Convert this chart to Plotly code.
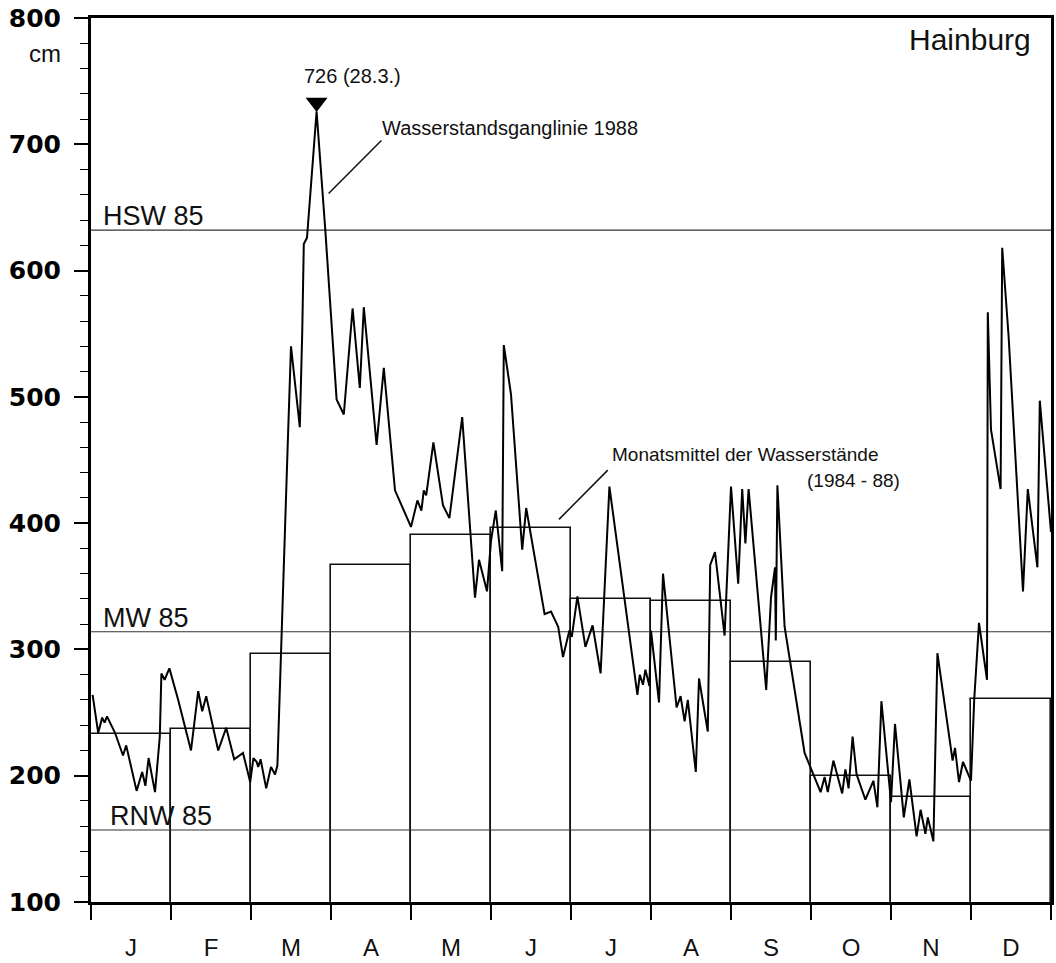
import plotly.graph_objects as go

# ---------------- data ----------------
month_labels = ["J", "F", "M", "A", "M", "J", "J", "A", "S", "O", "N", "D"]

# monthly means of water levels 1984-88 (cm)
monthly_mean = [233, 237, 296, 367, 391, 396, 340, 338, 290, 200, 183, 261]

# daily water level 1988: position in months (0 = 1 Jan, 12 = 31 Dec) and level (cm)
level_pos = [
    0.02, 0.09, 0.14, 0.17, 0.20, 0.23, 0.30, 0.40, 0.44, 0.57, 0.64, 0.68, 0.72, 0.80,
    0.86, 0.88, 0.92, 0.98, 1.09, 1.25, 1.34, 1.39, 1.44, 1.59, 1.69, 1.79, 1.90, 1.99,
    2.03, 2.07, 2.09, 2.12, 2.19, 2.25, 2.30, 2.33, 2.36, 2.46, 2.50, 2.61, 2.64, 2.66,
    2.70, 2.82, 2.93, 3.07, 3.16, 3.27, 3.36, 3.41, 3.57, 3.66, 3.80, 4.00, 4.08, 4.13,
    4.16, 4.19, 4.28, 4.40, 4.48, 4.64, 4.80, 4.85, 4.95, 5.00, 5.06, 5.14, 5.16, 5.25,
    5.39, 5.44, 5.67, 5.75, 5.84, 5.90, 5.98, 6.01, 6.08, 6.18, 6.27, 6.37, 6.48, 6.83,
    6.86, 6.90, 6.93, 6.98, 7.00, 7.10, 7.15, 7.32, 7.37, 7.42, 7.46, 7.56, 7.60, 7.71,
    7.74, 7.80, 7.92, 8.00, 8.09, 8.14, 8.18, 8.22, 8.44, 8.50, 8.55, 8.56, 8.58, 8.67,
    8.92, 9.05, 9.12, 9.17, 9.21, 9.28, 9.39, 9.43, 9.47, 9.52, 9.57, 9.68, 9.78, 9.83,
    9.88, 10.00, 10.05, 10.16, 10.23, 10.32, 10.37, 10.43, 10.46, 10.53, 10.58, 10.77,
    10.80, 10.85, 10.90, 11.00, 11.04, 11.10, 11.20, 11.21, 11.25, 11.37, 11.39, 11.47,
    11.65, 11.71, 11.83, 11.86, 12.00,
]
level_cm = [
    264, 234, 246, 242, 247, 243, 234, 216, 224, 188, 203, 192, 214, 187,
    231, 281, 276, 285, 260, 220, 267, 251, 263, 220, 238, 213, 218, 195,
    214, 211, 207, 213, 190, 207, 201, 208, 271, 464, 540, 476, 550, 621,
    626, 726, 631, 498, 486, 570, 507, 571, 462, 523, 426, 397, 418, 410,
    426, 422, 464, 414, 404, 484, 341, 371, 346, 386, 410, 362, 541, 502,
    379, 412, 328, 330, 318, 294, 315, 310, 342, 302, 319, 281, 429, 264,
    280, 272, 284, 271, 315, 258, 360, 254, 263, 243, 260, 203, 277, 235,
    367, 377, 311, 429, 352, 427, 384, 427, 268, 341, 365, 307, 430, 318,
    218, 198, 187, 199, 187, 212, 186, 205, 190, 231, 201, 181, 196, 175,
    259, 179, 241, 167, 197, 152, 173, 154, 167, 148, 297, 212,
    222, 195, 211, 196, 260, 321, 276, 567, 474, 427, 618, 548,
    346, 427, 365, 497, 393,
]

# reference levels (cm)
ref_names = ["HSW 85", "MW 85", "RNW 85"]
ref_values = [632, 314, 157]

peak_label = "726 (28.3.)"
station = "Hainburg"
line_label = "Wasserstandsganglinie 1988"
mean_label_1 = "Monatsmittel der Wasserstände"
mean_label_2 = "(1984 - 88)"

y_ticks = [100, 200, 300, 400, 500, 600, 700, 800]

# ---------------- figure ----------------
TXT = "Liberation Sans, Arial, Helvetica, sans-serif"
n = len(month_labels)
centers = [i + 0.5 for i in range(n)]
bounds = list(range(n + 1))

fig = go.Figure()

fig.add_trace(go.Bar(
    x=centers, y=monthly_mean, width=1.0,
    marker=dict(color="rgba(0,0,0,0)", line=dict(color="#111", width=1.6)),
    hoverinfo="skip", showlegend=False,
))

for name, val in zip(ref_names, ref_values):
    fig.add_trace(go.Scatter(
        x=[0, n], y=[val, val], mode="lines",
        line=dict(color="#333", width=1.1), showlegend=False, hoverinfo="skip",
    ))

fig.add_trace(go.Scatter(
    x=level_pos, y=level_cm, mode="lines",
    line=dict(color="#000", width=2), showlegend=False,
))

# peak marker
ip = max(range(len(level_cm)), key=lambda i: level_cm[i])
peak_x, peak_y = level_pos[ip], level_cm[ip]
fig.add_trace(go.Scatter(
    x=[peak_x], y=[peak_y + 7], mode="markers",
    marker=dict(symbol="triangle-down", size=19, color="#000"),
    showlegend=False, hoverinfo="skip",
))

ann = []
label_x = [0.12, 0.12, 0.21]
for name, val, lx in zip(ref_names, ref_values, label_x):
    ann.append(dict(x=lx, y=val, xref="x", yref="y", text=name, showarrow=False,
                    xanchor="left", yanchor="bottom", yshift=-3,
                    font=dict(family=TXT, size=27, color="#111")))

ann.append(dict(x=peak_x - 0.18, y=754, xref="x", yref="y", text=peak_label,
                showarrow=False, xanchor="left", yanchor="middle",
                font=dict(family=TXT, size=20, color="#111")))
ann.append(dict(x=3.61, y=713, xref="x", yref="y", text=line_label,
                showarrow=False, xanchor="left", yanchor="middle",
                font=dict(family=TXT, size=20, color="#111")))
ann.append(dict(x=6.49, y=454, xref="x", yref="y", text=mean_label_1,
                showarrow=False, xanchor="left", yanchor="middle",
                font=dict(family=TXT, size=19, color="#111")))
ann.append(dict(x=10.14, y=434, xref="x", yref="y", text=mean_label_2,
                showarrow=False, xanchor="right", yanchor="middle",
                font=dict(family=TXT, size=19, color="#111")))
ann.append(dict(x=11.78, y=783, xref="x", yref="y", text=station,
                showarrow=False, xanchor="right", yanchor="middle",
                font=dict(family=TXT, size=30, color="#111")))
ann.append(dict(x=-0.029, y=772, xref="paper", yref="y", text="cm",
                showarrow=False, xanchor="right", yanchor="middle",
                font=dict(family=TXT, size=24, color="#111")))

shapes = [
    dict(type="line", xref="x", yref="y", x0=2.97, y0=661, x1=3.63, y1=703,
         line=dict(color="#111", width=1.5)),
    dict(type="line", xref="x", yref="y", x0=5.85, y0=403, x1=6.46, y1=442,
         line=dict(color="#111", width=1.5)),
]

fig.update_layout(
    width=1056, height=963,
    margin=dict(l=91, r=2, t=18, b=52),
    paper_bgcolor="white", plot_bgcolor="white",
    annotations=ann, shapes=shapes, bargap=0,
    showlegend=False,
)

fig.update_xaxes(
    range=[0, n], tickmode="array", tickvals=centers, ticktext=month_labels,
    ticks="", ticklen=0, ticklabelstandoff=22,
    tickfont=dict(family=TXT, size=24, color="#111"),
    showline=True, linecolor="#000", linewidth=3, mirror=True,
    showgrid=False, zeroline=False,
    minor=dict(tickmode="array", tickvals=bounds, ticks="outside",
               ticklen=15, tickwidth=2, tickcolor="#000", showgrid=False),
)
fig.update_yaxes(
    range=[100, 800], tickmode="array", tickvals=y_ticks,
    ticks="outside", ticklen=14, tickwidth=1.5, tickcolor="#000",
    ticklabelstandoff=8,
    tickfont=dict(family="DejaVu Sans", size=25, color="#000", weight="bold"),
    showline=True, linecolor="#000", linewidth=3, mirror=True,
    showgrid=False, zeroline=False,
    minor=dict(dtick=20, tick0=100, ticks="outside", ticklen=8, tickwidth=1.2,
               tickcolor="#000", showgrid=False),
)

fig.write_html("out.html")
